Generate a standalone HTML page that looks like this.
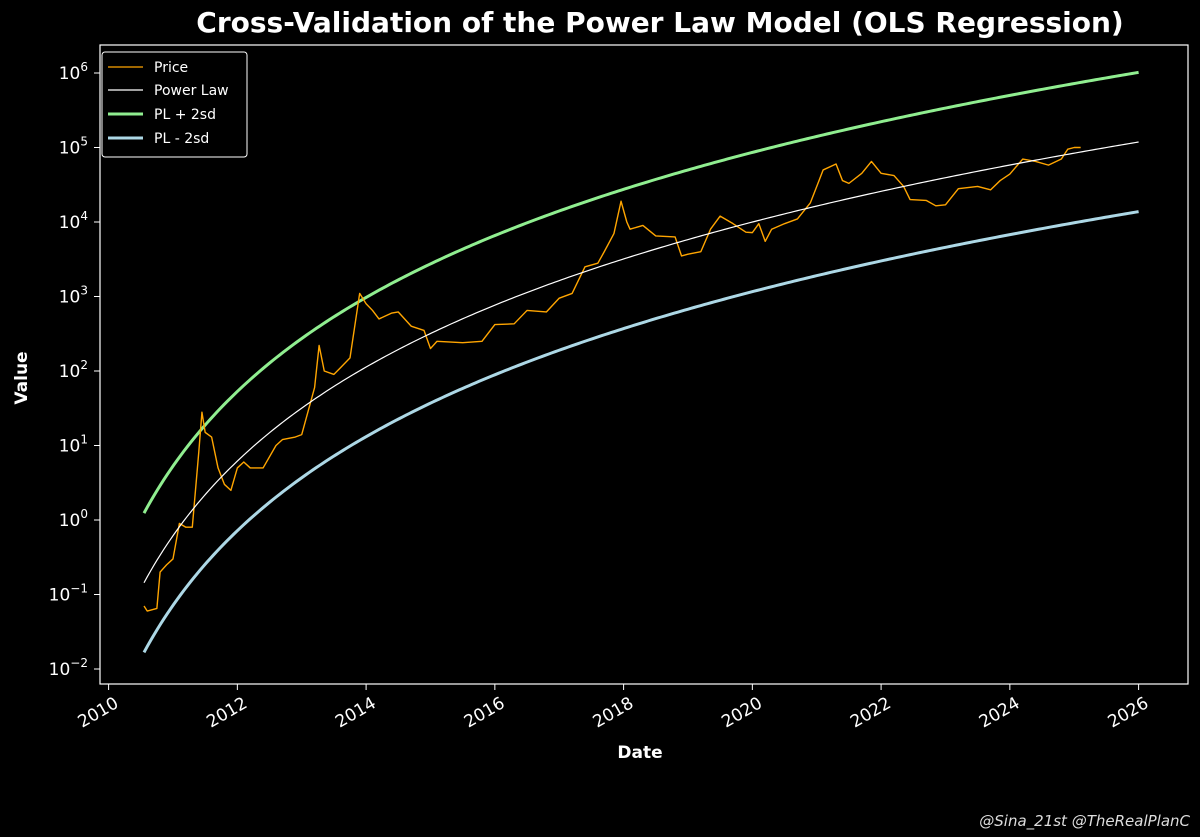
<!DOCTYPE html>
<html><head><meta charset="utf-8"><style>
html,body{margin:0;padding:0;background:#000;}
svg{display:block;font-family:"DejaVu Sans","Liberation Sans",sans-serif;}
</style></head><body>
<svg id="chart" width="1200" height="837" viewBox="0 0 1200 837" xmlns="http://www.w3.org/2000/svg">
<rect width="1200" height="837" fill="#000"/>
<text x="660" y="32" text-anchor="middle" fill="#fff" font-size="28" font-weight="bold">Cross-Validation of the Power Law Model (OLS Regression)</text>
<g id="axes"></g>
<g id="series"></g>
<rect x="100" y="45" width="1088" height="639" fill="none" stroke="#fff" stroke-width="1.2"/>
<text x="640" y="758" text-anchor="middle" fill="#fff" font-size="17" font-weight="bold">Date</text>
<text transform="translate(27,378) rotate(-90)" text-anchor="middle" fill="#fff" font-size="17" font-weight="bold">Value</text>
<text x="1190" y="826" text-anchor="end" fill="#ddd" font-size="15" font-style="italic">@Sina_21st @TheRealPlanC</text>
<g>
<rect x="102" y="52" width="145" height="105" rx="3" fill="#000" stroke="#fff" stroke-width="1"/>
<line x1="108" x2="143" y1="67" y2="67" stroke="#FFA500" stroke-width="1.3"/>
<text x="154" y="72" fill="#fff" font-size="14">Price</text>
<line x1="108" x2="143" y1="90" y2="90" stroke="#fff" stroke-width="1.3"/>
<text x="154" y="95" fill="#fff" font-size="14">Power Law</text>
<line x1="108" x2="143" y1="114" y2="114" stroke="#90EE90" stroke-width="3"/>
<text x="154" y="119" fill="#fff" font-size="14">PL + 2sd</text>
<line x1="108" x2="143" y1="138" y2="138" stroke="#ADD8E6" stroke-width="3"/>
<text x="154" y="143" fill="#fff" font-size="14">PL - 2sd</text>
</g>
</svg>
<script>
const xTickYears=[2010,2012,2014,2016,2018,2020,2022,2024,2026];
const yTickExps=[-2,-1,0,1,2,3,4,5,6];
const plIntercept=-16.47;
const plSlope=5.68;
const sdFactor=8.6;
const modelStart=2010.55, modelEnd=2026.0;
const priceYears=[2010.55,2010.6,2010.75,2010.8,2010.9,2011.0,2011.1,2011.2,2011.3,2011.4,2011.45,2011.5,2011.6,2011.7,2011.8,2011.9,2012.0,2012.1,2012.2,2012.4,2012.6,2012.7,2012.9,2013.0,2013.2,2013.27,2013.35,2013.5,2013.6,2013.75,2013.9,2014.0,2014.1,2014.2,2014.4,2014.5,2014.7,2014.9,2015.0,2015.1,2015.5,2015.8,2016.0,2016.3,2016.5,2016.8,2017.0,2017.2,2017.4,2017.6,2017.7,2017.85,2017.96,2018.05,2018.1,2018.3,2018.5,2018.8,2018.9,2019.0,2019.2,2019.35,2019.5,2019.7,2019.9,2020.0,2020.1,2020.2,2020.3,2020.5,2020.7,2020.9,2021.0,2021.1,2021.3,2021.4,2021.5,2021.7,2021.85,2022.0,2022.2,2022.35,2022.45,2022.7,2022.85,2023.0,2023.2,2023.5,2023.7,2023.85,2024.0,2024.2,2024.4,2024.6,2024.8,2024.9,2025.0,2025.1];
const priceValues=[0.07,0.06,0.065,0.2,0.25,0.3,0.9,0.8,0.8,8,28,15,13,5,3,2.5,5,6,5,5,10,12,13,14,60,220,100,90,110,150,1100,800,650,500,600,620,400,350,200,250,240,250,420,430,650,620,950,1100,2500,2800,4000,7000,19000,10000,8000,9000,6500,6300,3500,3700,4000,8000,12000,9500,7300,7200,9500,5500,8000,9500,11000,18000,30000,50000,60000,36000,33000,45000,65000,45000,42000,30000,20000,19500,16500,17000,28000,30000,27000,36000,44000,70000,65000,58000,70000,95000,100000,100000];

const NS="http://www.w3.org/2000/svg";
const X=y=>108.6+(y-2010)*64.375;
const Y=v=>669-(Math.log10(v)+2)*74.5;
const axes=document.getElementById('axes'), series=document.getElementById('series');
function mk(tag,attrs,parent){const e=document.createElementNS(NS,tag);for(const k in attrs)e.setAttribute(k,attrs[k]);parent.appendChild(e);return e;}
xTickYears.forEach(yr=>{
  const x=X(yr);
  const t=mk('line',{x1:x,x2:x,y1:684,y2:690,stroke:'#fff','stroke-width':1},axes);
  
  
  const l=mk('text',{transform:`translate(${x+5},${696}) rotate(-30)`,'text-anchor':'end','dominant-baseline':'hanging',fill:'#fff','font-size':17},axes);
  l.textContent=yr;
  
  
});
yTickExps.forEach(e=>{
  const y=Y(Math.pow(10,e));
  const t=mk('line',{x1:94,x2:100,y1:y,y2:y,stroke:'#fff','stroke-width':1},axes);
  
  
  const l=mk('text',{x:88,y:y+6,'text-anchor':'end',fill:'#fff','font-size':17},axes);
  l.innerHTML='10<tspan dy="-8" font-size="12">'+(e<0?'\u2212'+(-e):e)+'</tspan>';
  
  
});
const genesis=2009.0055;
function pl(yr){return Math.pow(10,plIntercept+plSlope*Math.log10((yr-genesis)*365.25));}
function modelPath(f){let d='';for(let i=0;i<=300;i++){const yr=modelStart+(modelEnd-modelStart)*i/300;d+=(i?'L':'M')+X(yr).toFixed(2)+','+Y(f(yr)).toFixed(2);}return d;}
const up=mk('path',{d:modelPath(y=>pl(y)*sdFactor),fill:'none',stroke:'#90EE90','stroke-width':3},series);


const lo=mk('path',{d:modelPath(y=>pl(y)/sdFactor),fill:'none',stroke:'#ADD8E6','stroke-width':3},series);


let pd='';priceYears.forEach((yr,i)=>{pd+=(i?'L':'M')+X(yr).toFixed(2)+','+Y(priceValues[i]).toFixed(2);});
const pr=mk('path',{d:pd,fill:'none',stroke:'#FFA500','stroke-width':1.4,'stroke-linejoin':'round'},series);


const pw=mk('path',{d:modelPath(pl),fill:'none',stroke:'#fff','stroke-width':1.2},series);


</script>
</body></html>
